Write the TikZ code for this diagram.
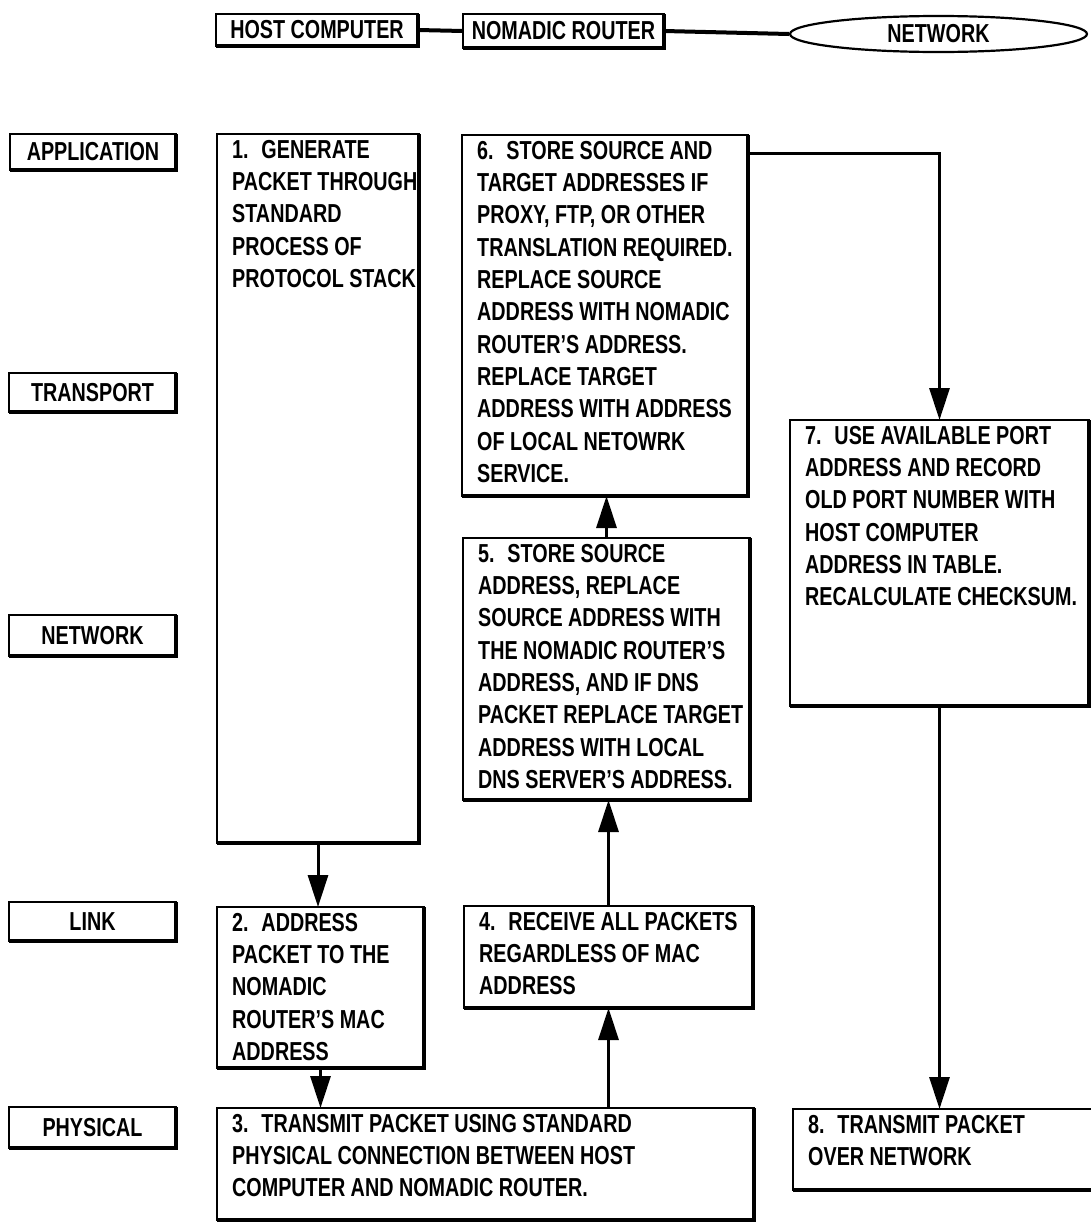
\documentclass[tikz,border=0pt]{standalone}
\usepackage{fontspec}
\setmainfont[FakeStretch=0.76]{Liberation Sans}
\usetikzlibrary{shapes.geometric,arrows.meta}
\newcommand\flowbox[6]{%
  \node[box, minimum width={(#4)-(#2)}, minimum height={(#5)-(#3)}] (#1) at (#2,#3) {};
  \node[txt] (#1t) at ([xshift=15pt,yshift=-6pt]#1.north west) {#6};}
\newcommand\layerbox[6]{%
  \node[box, minimum width={(#4)-(#2)}, minimum height={(#5)-(#3)}] (#1) at (#2,#3) {};
  \node[inner sep=0pt] (#1t) at (#1.center) {#6};}
\begin{document}
\begin{tikzpicture}[x=1pt,y=-1pt,
  font=\fontsize{26}{32.3}\selectfont\bfseries,
  box/.style={draw, line width=1.6pt, inner sep=0pt, outer sep=0pt, anchor=north west,
    append after command={\pgfextra{\draw[line width=3.8pt]
      (\tikzlastnode.north east) -- (\tikzlastnode.south east) -- (\tikzlastnode.south west);}}},
  txt/.style={anchor=north west, align=left, inner sep=0pt},
  arr/.style={line width=3pt, -{Triangle[length=32pt,width=20pt]}},
  conn/.style={line width=4pt}]
\fill[white] (0,0) rectangle (1091,1232);
\useasboundingbox (0,0) rectangle (1091,1232);

% header
\layerbox{host}{216}{14}{418}{46}{HOST COMPUTER}
\layerbox{router}{463}{14}{664}{48}{NOMADIC ROUTER}
\node[ellipse, draw, line width=2.2pt, minimum width=297pt, minimum height=36pt, inner sep=0pt] (net) at (938.5,34) {NETWORK};
\draw[conn] (host.east) -- (router.west);
\draw[conn] (router.east) -- (net.west);

% layer labels
\layerbox{lapp}{10}{134}{176}{170}{APPLICATION}
\layerbox{ltra}{9}{373}{176}{412}{TRANSPORT}
\layerbox{lnet}{9}{615}{176}{656}{NETWORK}
\layerbox{llnk}{9}{902}{176}{941}{LINK}
\layerbox{lphy}{9}{1107}{176}{1148}{PHYSICAL}

% process boxes
\flowbox{b1}{217}{134}{419}{843}{1.~ GENERATE\\PACKET THROUGH\\STANDARD\\PROCESS OF\\PROTOCOL STACK}
\flowbox{b6}{462}{135}{748}{496}{6.~ STORE SOURCE AND\\TARGET ADDRESSES IF\\PROXY, FTP, OR OTHER\\TRANSLATION REQUIRED.\\REPLACE SOURCE\\ADDRESS WITH NOMADIC\\ROUTER'S ADDRESS.\\REPLACE TARGET\\ADDRESS WITH ADDRESS\\OF LOCAL NETOWRK\\SERVICE.}
\flowbox{b7}{790}{420}{1089}{706}{7.~ USE AVAILABLE PORT\\ADDRESS AND RECORD\\OLD PORT NUMBER WITH\\HOST COMPUTER\\ADDRESS IN TABLE.\\RECALCULATE CHECKSUM.}
\flowbox{b5}{463}{538}{750}{800}{5.~ STORE SOURCE\\ADDRESS, REPLACE\\SOURCE ADDRESS WITH\\THE NOMADIC ROUTER'S\\ADDRESS, AND IF DNS\\PACKET REPLACE TARGET\\ADDRESS WITH LOCAL\\DNS SERVER'S ADDRESS.}
\flowbox{b2}{217}{907}{424}{1068}{2.~ ADDRESS\\PACKET TO THE\\NOMADIC\\ROUTER'S MAC\\ADDRESS}
\flowbox{b4}{464}{906}{753}{1008}{4.~ RECEIVE ALL PACKETS\\REGARDLESS OF MAC\\ADDRESS}
\flowbox{b3}{217}{1108}{754}{1220}{3.~ TRANSMIT PACKET USING STANDARD\\PHYSICAL CONNECTION BETWEEN HOST\\COMPUTER AND NOMADIC ROUTER.}
\flowbox{b8}{793}{1109}{1100}{1190}{8.~ TRANSMIT PACKET\\OVER NETWORK}

% connectors
\draw[arr] (b1.south) -- (b1.south |- b2.north);
\draw[arr] (b2.south) -- (b2.south |- b3.north);
\draw[arr] (b4.south |- b3.north) -- (b4.south);
\draw[arr] (b4.north) -- (b4.north |- b5.south);
\draw[arr] (b5.north) -- (b5.north |- b6.south);
\draw[arr] ([yshift=-18pt]b6.north east) -| (b7.north);
\draw[arr] (b7.south) -- (b7.south |- b8.north);
\end{tikzpicture}
\end{document}
